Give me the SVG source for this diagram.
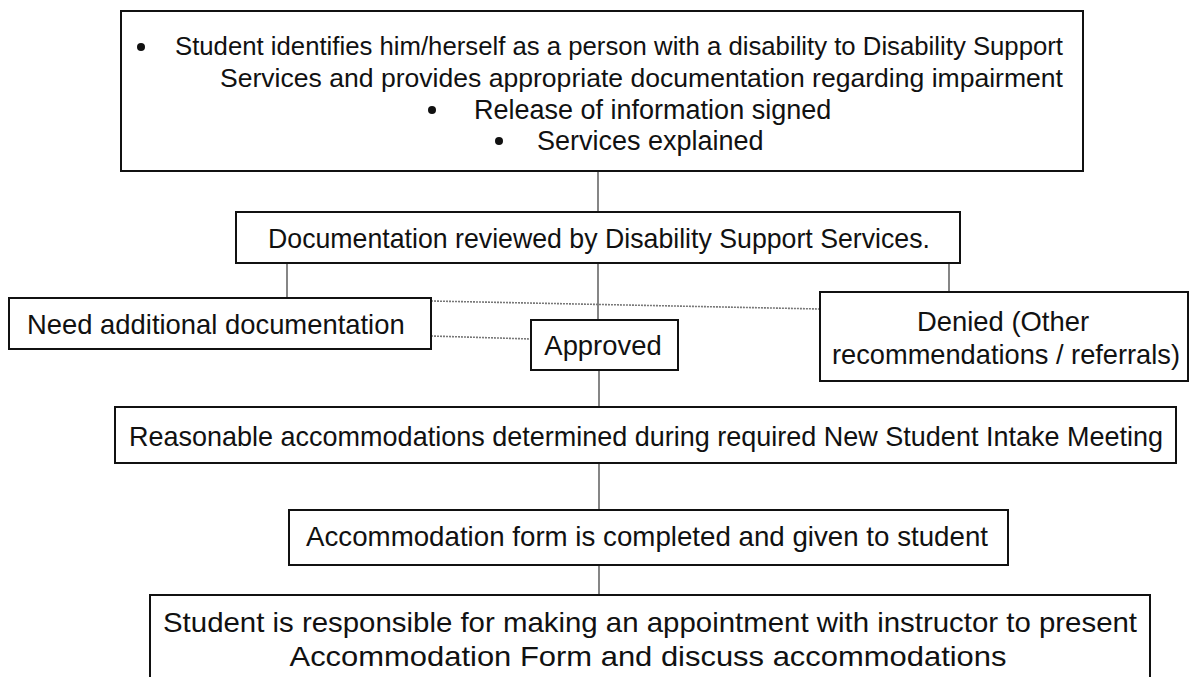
<svg xmlns="http://www.w3.org/2000/svg" width="1204" height="677" viewBox="0 0 1204 677">
<style>
.box{fill:#fff;stroke:#111;stroke-width:2}
.t{font-family:"Liberation Sans",Arial,sans-serif;font-size:26.5px;fill:#111}
.s{font-size:27.4px}
.c{stroke:#444;stroke-width:1.3;fill:none}
.d{stroke:#777;stroke-width:1.6;stroke-dasharray:2 1;fill:none}
</style>
<rect width="1204" height="677" fill="#fff"/>
<g id="connectors">
<line class="c" x1="598" y1="172" x2="598" y2="212"/>
<line class="c" x1="287" y1="263" x2="287" y2="298"/>
<line class="c" x1="598" y1="263" x2="598" y2="320"/>
<line class="c" x1="949" y1="263" x2="949" y2="292"/>
<line class="c" x1="599" y1="370" x2="599" y2="407"/>
<line class="c" x1="599" y1="463" x2="599" y2="510"/>
<line class="c" x1="599" y1="565" x2="599" y2="595"/>
<line class="d" x1="431" y1="301" x2="820" y2="309"/>
<line class="d" x1="431" y1="336" x2="531" y2="339"/>
</g>
<g id="n-identify">
<rect class="box" x="121" y="11" width="962" height="160"/>
<circle cx="141" cy="47" r="4" fill="#111"/>
<text class="t" x="175" y="55" textLength="888" lengthAdjust="spacingAndGlyphs">Student identifies him/herself as a person with a disability to Disability Support</text>
<text class="t" x="220" y="87" textLength="843" lengthAdjust="spacingAndGlyphs">Services and provides appropriate documentation regarding impairment</text>
<circle cx="432" cy="110" r="4" fill="#111"/>
<text class="t" x="474" y="119" style="font-size:27px">Release of information signed</text>
<circle cx="499" cy="141" r="4" fill="#111"/>
<text class="t" x="537" y="150" style="font-size:27px">Services explained</text>
</g>
<g id="n-review">
<rect class="box" x="236" y="212" width="724" height="51"/>
<text class="t s" x="599" y="248" text-anchor="middle" textLength="662" lengthAdjust="spacingAndGlyphs">Documentation reviewed by Disability Support Services.</text>
</g>
<g id="n-need">
<rect class="box" x="9" y="298" width="422" height="51"/>
<text class="t s" x="27" y="334">Need additional documentation</text>
</g>
<g id="n-approved">
<rect class="box" x="531" y="320" width="147" height="50"/>
<text class="t s" x="603" y="355" text-anchor="middle">Approved</text>
</g>
<g id="n-denied">
<rect class="box" x="820" y="292" width="368" height="89"/>
<text class="t s" x="1003" y="331" text-anchor="middle">Denied (Other</text>
<text class="t s" x="1006" y="364" text-anchor="middle" textLength="348" lengthAdjust="spacingAndGlyphs">recommendations / referrals)</text>
</g>
<g id="n-reasonable">
<rect class="box" x="115" y="407" width="1061" height="56"/>
<text class="t s" x="646" y="446" text-anchor="middle" textLength="1034" lengthAdjust="spacingAndGlyphs">Reasonable accommodations determined during required New Student Intake Meeting</text>
</g>
<g id="n-form">
<rect class="box" x="289" y="510" width="719" height="55"/>
<text class="t s" x="647" y="546" text-anchor="middle" textLength="682" lengthAdjust="spacingAndGlyphs">Accommodation form is completed and given to student</text>
</g>
<g id="n-appointment">
<rect class="box" x="150" y="595" width="1000" height="100"/>
<text class="t s" x="650" y="632" text-anchor="middle" textLength="974" lengthAdjust="spacingAndGlyphs">Student is responsible for making an appointment with instructor to present</text>
<text class="t s" x="648" y="666" text-anchor="middle" textLength="717" lengthAdjust="spacingAndGlyphs">Accommodation Form and discuss accommodations</text>
</g>
</svg>
